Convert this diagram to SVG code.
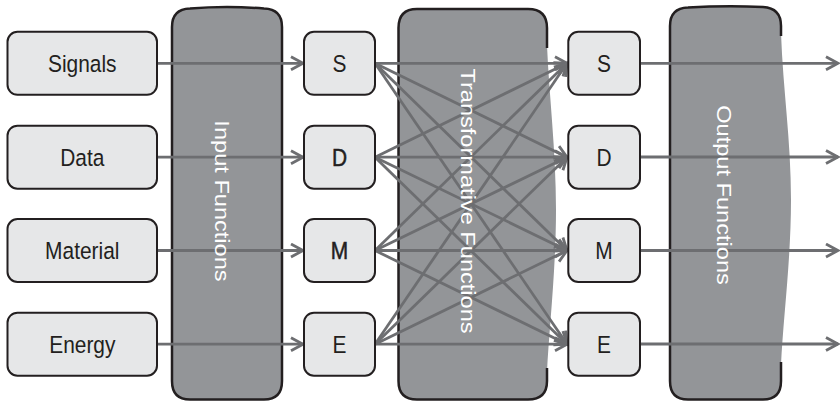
<svg xmlns="http://www.w3.org/2000/svg" width="840" height="401" viewBox="0 0 840 401">
<style>
.box{fill:#e6e7e8;stroke:#231f20;stroke-width:2}
.band{fill:#939598}
.bandline{fill:none;stroke:#231f20;stroke-width:2.5}
.lbl{font-family:"Liberation Sans",Arial,sans-serif;font-size:23.5px;fill:#231f20;text-anchor:middle}
.blbl{font-family:"Liberation Sans",Arial,sans-serif;font-size:23.6px;fill:#ffffff;text-anchor:middle}
.arr{fill:none;stroke:#6d6e71;stroke-width:2.8;marker-end:url(#ah)}
</style>
<defs>
<marker id="ah" markerUnits="userSpaceOnUse" markerWidth="16" markerHeight="16" viewBox="0 0 16 16" refX="13" refY="8" orient="auto">
<path d="M1,1.5 L13,8 L1,14.5" fill="none" stroke="#6d6e71" stroke-width="2.8"/>
</marker>
</defs>

<g id="band-input">
<path class="band" d="M172,27 Q172,9 190,8.5 Q227,5.5 264,8.5 Q282,9 282,27 L282,381 Q282,399.5 264,399.5 L190,399.5 Q172,399.5 172,381 Z"/>
<path class="bandline" d="M172,27 Q172,9 190,8.5 Q227,5.5 264,8.5 Q282,9 282,27 L282,381 Q282,399.5 264,399.5 L190,399.5 Q172,399.5 172,381 Z"/>
</g>
<g id="band-transform">
<path class="band" d="M398.5,28 Q398.5,9 417,9 L528,9 Q547,9 547,28 L547,45 C549,95 556,150 556,210 C556,270 549,330 547,372 L547,381 Q547,399.5 528,399.5 L417,399.5 Q398.5,399.5 398.5,381 Z"/>
<path class="bandline" d="M547,48 L547,28 Q547,9 528,9 L417,9 Q398.5,9 398.5,28 L398.5,381 Q398.5,399.5 417,399.5 L528,399.5 Q547,399.5 547,381 L547,368"/>
</g>
<g id="band-output">
<path class="band" d="M670,26 Q670,8 688,7.5 Q725,5.5 763,7 Q781,8 781,26 L781,33 C783,90 791,140 791,200 C791,260 783,320 781,365 L781,381 Q781,399.5 763,399.5 L688,399.5 Q670,399.5 670,381 Z"/>
<path class="bandline" d="M781,36 L781,26 Q781,8 763,7 Q725,5.5 688,7.5 Q670,8 670,26 L670,381 Q670,399.5 688,399.5 L763,399.5 Q781,399.5 781,381 L781,362"/>
</g>

<g id="connectors">
<line class="arr" x1="157" y1="63.3" x2="303" y2="63.3"/>
<line class="arr" x1="157" y1="157.2" x2="303" y2="157.2"/>
<line class="arr" x1="157" y1="250.5" x2="303" y2="250.5"/>
<line class="arr" x1="157" y1="344.2" x2="303" y2="344.2"/>

<line class="arr" x1="375" y1="63.3" x2="567" y2="63.3"/>
<line class="arr" x1="375" y1="63.3" x2="567" y2="157.2"/>
<line class="arr" x1="375" y1="63.3" x2="567" y2="250.5"/>
<line class="arr" x1="375" y1="63.3" x2="567" y2="344.2"/>
<line class="arr" x1="375" y1="157.2" x2="567" y2="63.3"/>
<line class="arr" x1="375" y1="157.2" x2="567" y2="157.2"/>
<line class="arr" x1="375" y1="157.2" x2="567" y2="250.5"/>
<line class="arr" x1="375" y1="157.2" x2="567" y2="344.2"/>
<line class="arr" x1="375" y1="250.5" x2="567" y2="63.3"/>
<line class="arr" x1="375" y1="250.5" x2="567" y2="157.2"/>
<line class="arr" x1="375" y1="250.5" x2="567" y2="250.5"/>
<line class="arr" x1="375" y1="250.5" x2="567" y2="344.2"/>
<line class="arr" x1="375" y1="344.2" x2="567" y2="63.3"/>
<line class="arr" x1="375" y1="344.2" x2="567" y2="157.2"/>
<line class="arr" x1="375" y1="344.2" x2="567" y2="250.5"/>
<line class="arr" x1="375" y1="344.2" x2="567" y2="344.2"/>

<line class="arr" x1="640" y1="63.3" x2="838" y2="63.3"/>
<line class="arr" x1="640" y1="157" x2="838" y2="157"/>
<line class="arr" x1="640" y1="250.5" x2="838" y2="250.5"/>
<line class="arr" x1="640" y1="344" x2="838" y2="344"/>
</g>

<g id="band-labels">
<text class="blbl" transform="translate(215,201) scale(0.89,1) rotate(90)">Input Functions</text>
<text class="blbl" transform="translate(461,201) scale(0.89,1) rotate(90)">Transformative Functions</text>
<text class="blbl" transform="translate(717,195) scale(0.89,1) rotate(90)">Output Functions</text>
</g>

<g id="in-signals"><rect class="box" x="7.5" y="31.8" width="149.5" height="63" rx="10"/><text class="lbl" transform="translate(82.3,72) scale(0.89,1)">Signals</text></g>
<g id="in-data"><rect class="box" x="7.5" y="125.7" width="149.5" height="63" rx="10"/><text class="lbl" transform="translate(82.3,165.9) scale(0.89,1)">Data</text></g>
<g id="in-material"><rect class="box" x="7.5" y="219" width="149.5" height="63" rx="10"/><text class="lbl" transform="translate(82.3,259.2) scale(0.89,1)">Material</text></g>
<g id="in-energy"><rect class="box" x="7.5" y="312.7" width="149.5" height="63" rx="10"/><text class="lbl" transform="translate(82.3,352.9) scale(0.89,1)">Energy</text></g>

<g id="mid-s"><rect class="box" x="304" y="31.8" width="71" height="63" rx="10"/><text class="lbl" transform="translate(339.5,72) scale(0.89,1)">S</text></g>
<g id="mid-d"><rect class="box" x="304" y="125.7" width="71" height="63" rx="10"/><text class="lbl" transform="translate(339.5,165.9) scale(0.89,1)" stroke="#231f20" stroke-width="0.5">D</text></g>
<g id="mid-m"><rect class="box" x="304" y="219" width="71" height="63" rx="10"/><text class="lbl" transform="translate(339.5,259.2) scale(0.89,1)" stroke="#231f20" stroke-width="0.5">M</text></g>
<g id="mid-e"><rect class="box" x="304" y="312.7" width="71" height="63" rx="10"/><text class="lbl" transform="translate(339.5,352.9) scale(0.89,1)">E</text></g>

<g id="out-s"><rect class="box" x="568.3" y="31.8" width="71.7" height="63" rx="10"/><text class="lbl" transform="translate(604,72) scale(0.89,1)">S</text></g>
<g id="out-d"><rect class="box" x="568.3" y="125.7" width="71.7" height="63" rx="10"/><text class="lbl" transform="translate(604,165.9) scale(0.89,1)">D</text></g>
<g id="out-m"><rect class="box" x="568.3" y="219" width="71.7" height="63" rx="10"/><text class="lbl" transform="translate(604,259.2) scale(0.89,1)">M</text></g>
<g id="out-e"><rect class="box" x="568.3" y="312.7" width="71.7" height="63" rx="10"/><text class="lbl" transform="translate(604,352.9) scale(0.89,1)">E</text></g>
</svg>
